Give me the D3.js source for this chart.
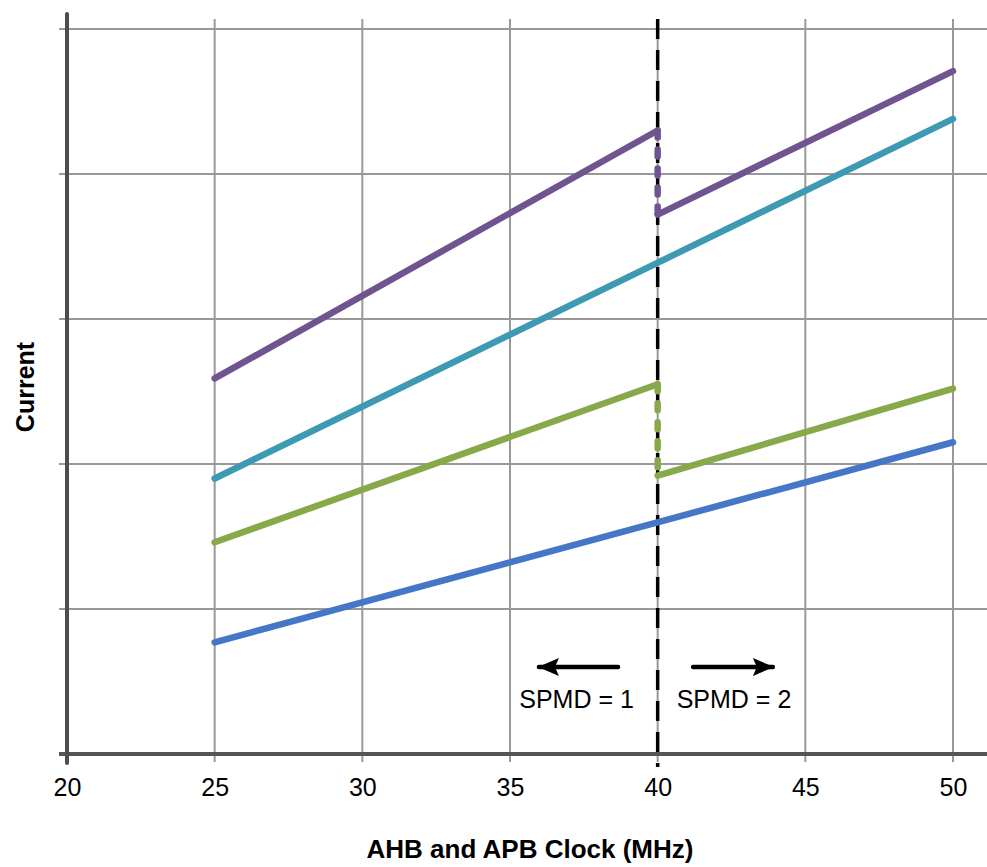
<!DOCTYPE html>
<html>
<head>
<meta charset="utf-8">
<script src="https://cdn.jsdelivr.net/npm/d3@7"></script>
<style>
  body { margin: 0; background: #fff; }
  svg { display: block; font-family: "Liberation Sans", Arial, sans-serif; }
</style>
</head>
<body>
<svg id="chart" width="987" height="867"></svg>
<script>
// ---------------------------//
//          DATA              //
// ---------------------------//
var xTicks = [20, 25, 30, 35, 40, 45, 50];
var yGrid = [1, 2, 3, 4, 5];

// clock ranges for each SPMD setting
var xLow = [25, 40];    // SPMD = 1
var xHigh = [40, 50];   // SPMD = 2
var xFull = [25, 50];

var purpleLow = [2.59, 4.30];
var purpleHigh = [3.72, 4.71];
var tealFull = [1.90, 4.38];
var greenLow = [1.46, 2.55];
var greenHigh = [1.92, 2.52];
var blueFull = [0.77, 2.15];

var splitAt = 40;
var arrowY = 0.6;
var labelY = 0.317;
var leftArrow = [38.66, 35.98];
var rightArrow = [41.2, 43.9];
var spmdLabels = ["SPMD = 1", "SPMD = 2"];

var colors = {
  purple: "#70548f",
  teal: "#3d9ab2",
  green: "#87a94a",
  blue: "#4677c6"
};

// ---------------------------//
//          MAIN              //
// ---------------------------//
var svg = d3.select("#chart");

var x = d3.scaleLinear().domain([20, 50]).range([67, 953]);
var y = d3.scaleLinear().domain([0, 5]).range([754, 29]);

var grid = svg.append("g");

// horizontal gridlines
grid.selectAll("line.h")
  .data(yGrid)
  .enter()
  .append("line")
  .attr("x1", 59).attr("x2", 987)
  .attr("y1", d => y(d)).attr("y2", d => y(d))
  .attr("stroke", "#999").attr("stroke-width", 2);

// vertical gridlines
grid.selectAll("line.v")
  .data(xTicks.slice(1))
  .enter()
  .append("line")
  .attr("x1", d => x(d)).attr("x2", d => x(d))
  .attr("y1", 19).attr("y2", 762)
  .attr("stroke", "#999").attr("stroke-width", 2);

// x axis through d3 so the labels come from the scale
var xAxis = svg.append("g")
  .attr("transform", "translate(0," + y(0) + ")")
  .call(d3.axisBottom(x).tickValues(xTicks).tickSize(0).tickPadding(24));
xAxis.select(".domain").remove();
xAxis.selectAll("text")
  .attr("font-size", 25)
  .attr("font-family", "Liberation Sans, Arial, sans-serif")
  .attr("fill", "#000");

// axis lines
svg.append("line")
  .attr("x1", 59).attr("x2", 987)
  .attr("y1", y(0)).attr("y2", y(0))
  .attr("stroke", "#555").attr("stroke-width", 4);
svg.append("line")
  .attr("x1", x(20)).attr("x2", x(20))
  .attr("y1", 14).attr("y2", 763)
  .attr("stroke", "#4d4d4d").attr("stroke-width", 4)
  .attr("stroke-linecap", "round");

// SPMD boundary
svg.append("line")
  .attr("x1", x(splitAt)).attr("x2", x(splitAt))
  .attr("y1", 19).attr("y2", 767)
  .attr("stroke", "#000").attr("stroke-width", 3.5)
  .attr("stroke-dasharray", "20,11");

var line = d3.line().x(d => x(d[0])).y(d => y(d[1]));

function drawSeries(xs, ys, color) {
  svg.append("path")
    .attr("d", line(d3.zip(xs, ys)))
    .attr("fill", "none")
    .attr("stroke", color)
    .attr("stroke-width", 6.5)
    .attr("stroke-linecap", "round");
}

function drawDrop(top, bottom, color) {
  svg.append("path")
    .attr("d", line([[splitAt, top], [splitAt, bottom]]))
    .attr("fill", "none")
    .attr("stroke", color)
    .attr("stroke-width", 6.5)
    .attr("stroke-linecap", "round")
    .attr("stroke-dasharray", "7,12");
}

drawSeries(xFull, blueFull, colors.blue);
drawSeries(xLow, greenLow, colors.green);
drawSeries(xHigh, greenHigh, colors.green);
drawDrop(greenLow[1], greenHigh[0], colors.green);
drawSeries(xFull, tealFull, colors.teal);
drawSeries(xLow, purpleLow, colors.purple);
drawSeries(xHigh, purpleHigh, colors.purple);
drawDrop(purpleLow[1], purpleHigh[0], colors.purple);

// arrows
svg.append("defs").append("marker")
  .attr("id", "head")
  .attr("viewBox", "0 0 21 18")
  .attr("refX", 20).attr("refY", 9)
  .attr("markerUnits", "userSpaceOnUse")
  .attr("markerWidth", 21).attr("markerHeight", 18)
  .attr("orient", "auto")
  .append("path")
  .attr("d", "M0,0L21,9L0,18L4,9Z")
  .attr("fill", "#000");

[leftArrow, rightArrow].forEach(function(a) {
  svg.append("line")
    .attr("x1", x(a[0])).attr("x2", x(a[1]))
    .attr("y1", y(arrowY)).attr("y2", y(arrowY))
    .attr("stroke", "#000").attr("stroke-width", 4.5)
    .attr("stroke-linecap", "round")
    .attr("marker-end", "url(#head)");
});

svg.selectAll("text.spmd")
  .data(spmdLabels)
  .enter()
  .append("text")
  .attr("class", "spmd")
  .attr("x", (d, i) => x(d3.mean(i === 0 ? leftArrow : rightArrow)) - (i === 0 ? 2 : -1))
  .attr("y", y(labelY))
  .attr("text-anchor", "middle")
  .attr("font-size", 25)
  .text(d => d);

// axis titles
svg.append("text")
  .attr("x", 530).attr("y", 858)
  .attr("text-anchor", "middle")
  .attr("font-size", 26)
  .attr("font-weight", "bold")
  .text("AHB and APB Clock (MHz)");

svg.append("text")
  .attr("transform", "translate(34,387) rotate(-90)")
  .attr("text-anchor", "middle")
  .attr("font-size", 25)
  .attr("font-weight", "bold")
  .text("Current");
</script>
</body>
</html>
